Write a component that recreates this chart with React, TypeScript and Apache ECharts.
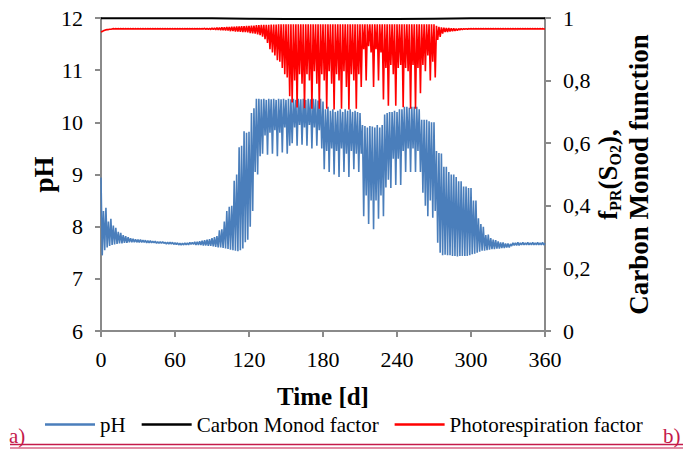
import React, { useEffect, useRef } from "react";
import * as echarts from "echarts";

// Time step (days) between consecutive samples of the pH and photorespiration series
const DAY_STEP = 1;

// pH (left axis), one value per day from day 0 to 360 (20 days per row)
const PH_VALUES = [
  8.94, 7.45, 8.3, 7.55, 8.36, 7.6, 8.1, 7.63, 8.15, 7.65, 8.02, 7.66, 7.98, 7.67, 7.9, 7.68, 7.88, 7.68, 7.84, 7.69,
  7.82, 7.69, 7.8, 7.7, 7.78, 7.7, 7.77, 7.7, 7.76, 7.7, 7.75, 7.7, 7.75, 7.7, 7.74, 7.7, 7.74, 7.69, 7.73, 7.69,
  7.73, 7.69, 7.72, 7.69, 7.72, 7.68, 7.71, 7.68, 7.71, 7.68, 7.71, 7.68, 7.7, 7.67, 7.7, 7.67, 7.7, 7.67, 7.7, 7.66,
  7.69, 7.66, 7.69, 7.65, 7.68, 7.65, 7.68, 7.65, 7.69, 7.65, 7.69, 7.65, 7.7, 7.66, 7.7, 7.66, 7.71, 7.65, 7.71, 7.65,
  7.72, 7.65, 7.73, 7.64, 7.74, 7.64, 7.75, 7.63, 7.76, 7.63, 7.78, 7.62, 7.8, 7.61, 7.82, 7.6, 7.93, 7.6, 7.95, 7.59,
  8.1, 7.58, 8.3, 7.57, 8.38, 7.56, 8.4, 7.55, 8.88, 7.54, 9.0, 7.53, 9.52, 7.55, 9.55, 7.58, 9.83, 7.7, 9.8, 7.75,
  9.82, 8.0, 10.18, 8.3, 10.27, 9.05, 10.45, 9.0, 10.45, 9.35, 10.44, 9.4, 10.45, 9.75, 10.43, 9.38, 10.45, 9.8, 10.44, 9.4,
  10.45, 9.85, 10.43, 9.35, 10.45, 9.8, 10.44, 9.42, 10.45, 9.9, 10.43, 9.4, 10.45, 9.55, 10.44, 9.6, 10.45, 9.9, 10.43, 9.55,
  10.45, 9.95, 10.44, 9.57, 10.45, 9.9, 10.43, 9.55, 10.45, 9.95, 10.44, 9.5, 10.45, 9.9, 10.44, 9.55, 10.42, 9.85, 10.45, 9.5,
  10.4, 9.1, 10.25, 9.45, 10.3, 9.05, 10.22, 9.5, 10.25, 9.0, 10.2, 9.45, 10.22, 8.95, 10.25, 9.5, 10.2, 9.05, 10.25, 9.4,
  10.22, 8.95, 10.25, 9.45, 10.2, 9.1, 10.22, 9.4, 10.2, 9.05, 10.18, 9.4, 9.95, 8.2, 9.93, 8.6, 9.9, 8.05, 9.93, 8.5,
  9.92, 7.95, 9.9, 8.5, 9.95, 8.15, 9.9, 8.6, 9.95, 8.2, 10.15, 8.75, 10.18, 8.9, 10.2, 8.74, 10.2, 9.3, 10.22, 8.8,
  10.2, 9.3, 10.25, 8.8, 10.25, 9.45, 10.3, 9.05, 10.3, 9.5, 10.28, 9.05, 10.3, 9.5, 10.3, 9.05, 10.3, 9.45, 10.25, 9.05,
  10.05, 8.65, 10.05, 8.4, 10.05, 8.2, 10.02, 8.5, 10.0, 8.17, 10.0, 8.3, 9.45, 7.69, 9.41, 7.5, 9.4, 7.45, 9.15, 7.46,
  9.15, 7.45, 9.05, 7.45, 9.0, 7.44, 9.0, 7.44, 8.95, 7.43, 8.87, 7.44, 8.87, 7.44, 8.77, 7.44, 8.77, 7.44, 8.74, 7.45,
  8.74, 7.47, 8.5, 7.48, 8.5, 7.5, 8.16, 7.52, 8.05, 7.54, 8.0, 7.54, 7.84, 7.55, 7.85, 7.56, 7.78, 7.57, 7.75, 7.57,
  7.74, 7.58, 7.72, 7.58, 7.7, 7.59, 7.7, 7.59, 7.68, 7.6, 7.68, 7.6, 7.67, 7.63, 7.69, 7.64, 7.69, 7.64, 7.7, 7.64,
  7.69, 7.65, 7.7, 7.65, 7.69, 7.65, 7.7, 7.65, 7.69, 7.65, 7.7, 7.65, 7.69, 7.65, 7.7, 7.65, 7.69, 7.65, 7.7, 7.65,
  7.68,
];

// Photorespiration factor (right axis), one value per day from day 0 to 360 (20 days per row)
const PR_VALUES = [
  0.955, 0.957, 0.959, 0.961, 0.962, 0.963, 0.963, 0.964, 0.964, 0.965, 0.966, 0.965, 0.966, 0.965, 0.966, 0.965, 0.966, 0.965, 0.966, 0.965,
  0.966, 0.965, 0.966, 0.965, 0.966, 0.965, 0.966, 0.965, 0.966, 0.965, 0.966, 0.965, 0.966, 0.965, 0.966, 0.965, 0.966, 0.965, 0.966, 0.965,
  0.966, 0.965, 0.966, 0.965, 0.966, 0.965, 0.966, 0.965, 0.966, 0.965, 0.966, 0.965, 0.966, 0.965, 0.966, 0.965, 0.966, 0.965, 0.966, 0.965,
  0.966, 0.965, 0.966, 0.965, 0.966, 0.965, 0.966, 0.965, 0.966, 0.965, 0.966, 0.965, 0.966, 0.965, 0.966, 0.965, 0.966, 0.965, 0.966, 0.965,
  0.966, 0.965, 0.966, 0.965, 0.967, 0.964, 0.967, 0.964, 0.967, 0.963, 0.968, 0.963, 0.968, 0.962, 0.969, 0.962, 0.969, 0.961, 0.97, 0.961,
  0.97, 0.96, 0.971, 0.96, 0.971, 0.958, 0.972, 0.958, 0.972, 0.957, 0.973, 0.957, 0.973, 0.956, 0.974, 0.955, 0.974, 0.955, 0.975, 0.954,
  0.975, 0.952, 0.976, 0.951, 0.976, 0.95, 0.977, 0.948, 0.977, 0.945, 0.978, 0.94, 0.978, 0.932, 0.978, 0.92, 0.978, 0.9, 0.979, 0.89,
  0.979, 0.88, 0.979, 0.865, 0.98, 0.86, 0.98, 0.84, 0.98, 0.82, 0.98, 0.81, 0.98, 0.75, 0.98, 0.73, 0.98, 0.8, 0.98, 0.714,
  0.98, 0.82, 0.98, 0.79, 0.98, 0.712, 0.98, 0.82, 0.98, 0.8, 0.98, 0.71, 0.98, 0.83, 0.98, 0.79, 0.98, 0.71, 0.98, 0.82,
  0.98, 0.8, 0.98, 0.71, 0.98, 0.83, 0.98, 0.79, 0.98, 0.708, 0.98, 0.82, 0.98, 0.8, 0.98, 0.71, 0.98, 0.83, 0.98, 0.78,
  0.98, 0.708, 0.98, 0.82, 0.98, 0.8, 0.98, 0.71, 0.98, 0.82, 0.98, 0.78, 0.98, 0.9, 0.98, 0.8, 0.98, 0.91, 0.98, 0.89,
  0.98, 0.78, 0.98, 0.9, 0.98, 0.8, 0.98, 0.89, 0.98, 0.74, 0.98, 0.84, 0.98, 0.72, 0.98, 0.85, 0.98, 0.82, 0.98, 0.72,
  0.98, 0.84, 0.98, 0.85, 0.98, 0.715, 0.98, 0.84, 0.98, 0.83, 0.98, 0.71, 0.98, 0.85, 0.98, 0.71, 0.98, 0.84, 0.98, 0.76,
  0.98, 0.85, 0.98, 0.83, 0.98, 0.88, 0.98, 0.8, 0.98, 0.86, 0.98, 0.81, 0.975, 0.93, 0.972, 0.94, 0.97, 0.95, 0.969, 0.955,
  0.968, 0.955, 0.968, 0.957, 0.967, 0.958, 0.967, 0.959, 0.966, 0.96, 0.966, 0.962, 0.966, 0.963, 0.966, 0.964, 0.966, 0.964, 0.966, 0.965,
  0.966, 0.965, 0.966, 0.965, 0.966, 0.965, 0.966, 0.965, 0.966, 0.965, 0.966, 0.965, 0.966, 0.965, 0.966, 0.965, 0.966, 0.965, 0.966, 0.965,
  0.966, 0.965, 0.966, 0.965, 0.966, 0.965, 0.966, 0.965, 0.966, 0.965, 0.966, 0.965, 0.966, 0.965, 0.966, 0.965, 0.966, 0.965, 0.966, 0.965,
  0.966, 0.965, 0.966, 0.965, 0.966, 0.965, 0.966, 0.965, 0.966, 0.965, 0.966, 0.965, 0.966, 0.965, 0.966, 0.965, 0.966, 0.965, 0.966, 0.965,
  0.965,
];

// Carbon Monod factor (right axis), sampled every MONOD_STEP days
const MONOD_STEP = 30;
const MONOD_VALUES = [0.999, 0.999, 0.999, 0.999, 0.998, 0.997, 0.997, 0.997, 0.997, 0.998, 0.999, 0.999, 0.999];

const SERIES_NAMES = ["pH", "Carbon Monod factor", "Photorespiration factor"];
const X_MIN = 0;
const X_MAX = 360;
const X_INTERVAL = 60;
const PH_MIN = 6;
const PH_MAX = 12;
const PH_INTERVAL = 1;
const F_MIN = 0;
const F_MAX = 1;
const F_INTERVAL = 0.2;

const FONT = "Liberation Serif, Times New Roman, serif";
const AXIS_GRAY = "#8a8a8a";
const BLUE = "#4a7ebb";
const RED = "#ff0000";
const CRIMSON = "#c41a4a";

export default function App() {
  const ref = useRef<HTMLDivElement>(null);

  useEffect(() => {
    if (!ref.current) return;
    const chart = echarts.init(ref.current, null, { renderer: "svg" });

    const phData = PH_VALUES.map((v, i) => [i * DAY_STEP, v]);
    const prData = PR_VALUES.map((v, i) => [i * DAY_STEP, v]);
    const monodData = MONOD_VALUES.map((v, i) => [i * MONOD_STEP, v]);

    const axisCommon = {
      axisLine: { show: true, onZero: false, lineStyle: { color: AXIS_GRAY, width: 2 } },
      axisTick: { show: true, inside: false, length: 6, lineStyle: { color: AXIS_GRAY, width: 2 } },
      splitLine: { show: false },
      nameMoveOverlap: false,
    };

    chart.setOption({
      animation: false,
      backgroundColor: "#ffffff",
      textStyle: { fontFamily: FONT },
      grid: { left: 101, right: 139, top: 18, bottom: 121, containLabel: false },
      legend: {
        data: SERIES_NAMES,
        left: 45,
        top: 414,
        padding: 0,
        itemGap: 16,
        itemWidth: 50,
        itemHeight: 2.5,
        icon: "rect",
        textStyle: { fontFamily: FONT, fontSize: 21, color: "#000" },
      },
      xAxis: {
        type: "value",
        min: X_MIN,
        max: X_MAX,
        interval: X_INTERVAL,
        ...axisCommon,
        axisLabel: { fontFamily: FONT, fontSize: 22, color: "#000", margin: 17 },
        name: "Time [d]",
        nameLocation: "middle",
        nameGap: 53,
        nameTextStyle: { fontFamily: FONT, fontSize: 25, fontWeight: "bold", color: "#000" },
      },
      yAxis: [
        {
          type: "value",
          position: "left",
          min: PH_MIN,
          max: PH_MAX,
          interval: PH_INTERVAL,
          ...axisCommon,
          axisLabel: { fontFamily: FONT, fontSize: 22, color: "#000", margin: 18 },
          name: "pH",
          nameLocation: "middle",
          nameGap: 44,
          nameTextStyle: { fontFamily: FONT, fontSize: 27, fontWeight: "bold", color: "#000" },
        },
        {
          type: "value",
          position: "right",
          min: F_MIN,
          max: F_MAX,
          interval: F_INTERVAL,
          ...axisCommon,
          axisLabel: {
            fontFamily: FONT,
            fontSize: 22,
            color: "#000",
            margin: 18,
            formatter: (v: number) => String(Math.round(v * 10) / 10).replace(".", ","),
          },
          name: "{a|f}{b|PR}{a|(S}{b|O2}{a|),}\n{a|Carbon Monod function}",
          nameLocation: "middle",
          nameGap: 47,
          nameTextStyle: {
            fontFamily: FONT,
            fontSize: 27,
            fontWeight: "bold",
            color: "#000",
            rich: {
              a: { fontFamily: FONT, fontSize: 27, fontWeight: "bold", color: "#000", lineHeight: 31 },
              b: { fontFamily: FONT, fontSize: 16, fontWeight: "bold", color: "#000", verticalAlign: "bottom" },
            },
          },
        },
      ],
      series: [
        {
          name: SERIES_NAMES[0],
          type: "line",
          yAxisIndex: 0,
          data: phData,
          showSymbol: false,
          symbol: "none",
          color: BLUE,
          lineStyle: { color: BLUE, width: 1.6 },
          z: 2,
        },
        {
          name: SERIES_NAMES[1],
          type: "line",
          yAxisIndex: 1,
          data: monodData,
          showSymbol: false,
          symbol: "none",
          color: "#000",
          lineStyle: { color: "#000", width: 2 },
          z: 4,
        },
        {
          name: SERIES_NAMES[2],
          type: "line",
          yAxisIndex: 1,
          data: prData,
          showSymbol: false,
          symbol: "none",
          color: RED,
          lineStyle: { color: RED, width: 1.6 },
          z: 3,
        },
      ],
      graphic: [
        {
          type: "text",
          left: 9,
          top: 425,
          style: { text: "a)", fontFamily: FONT, fontSize: 21, fill: CRIMSON },
        },
        {
          type: "text",
          left: 663,
          top: 425,
          style: { text: "b)", fontFamily: FONT, fontSize: 21, fill: CRIMSON },
        },
        {
          type: "line",
          shape: { x1: 10, y1: 444.5, x2: 683, y2: 444.5 },
          style: { stroke: CRIMSON, lineWidth: 1.5 },
        },
        {
          type: "line",
          shape: { x1: 10, y1: 448, x2: 683, y2: 448 },
          style: { stroke: CRIMSON, lineWidth: 1 },
        },
      ],
    });

    return () => chart.dispose();
  }, []);

  return (
    <div
      ref={ref}
      style={{ position: "absolute", left: 0, top: 0, width: 684, height: 452, background: "#fff" }}
    />
  );
}
